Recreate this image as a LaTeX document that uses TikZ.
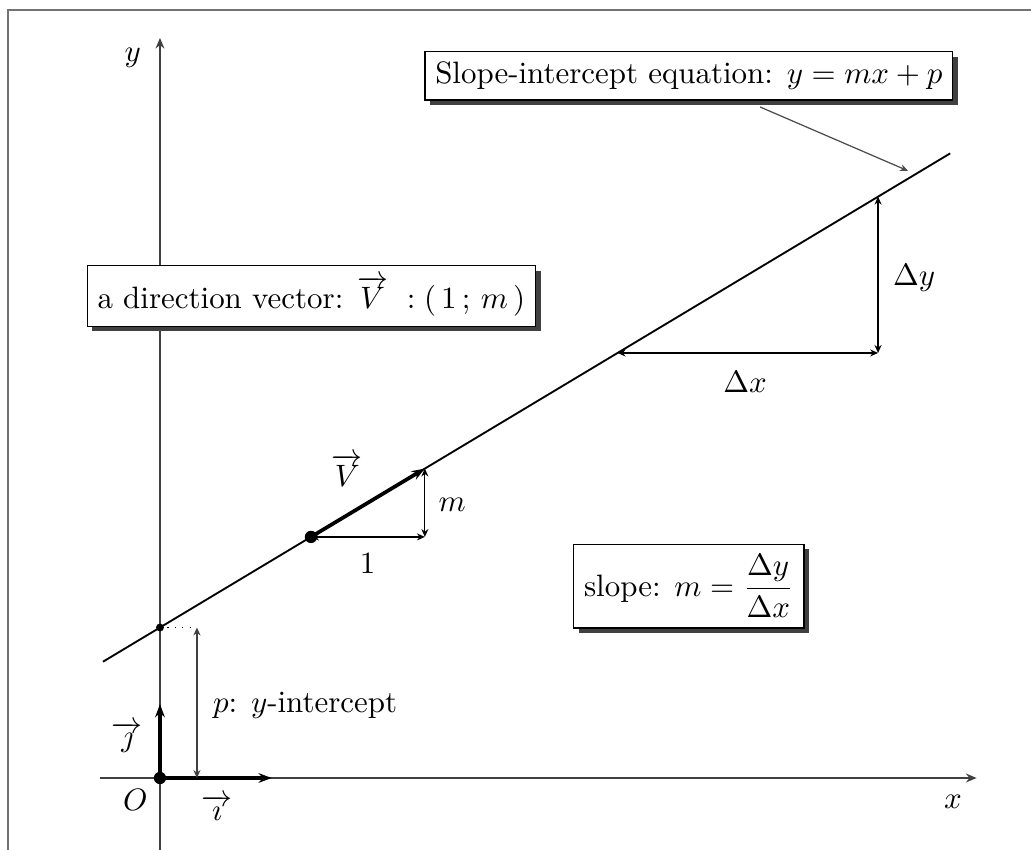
\documentclass[tikz,border=0pt]{standalone}
\usepackage{amsmath}
\usepackage{amssymb}
\usetikzlibrary{calc, positioning}
\usetikzlibrary{arrows.meta}
\usetikzlibrary{shadows}

\tikzset{
  infobox/.style={draw, fill=white, drop shadow={shadow xshift=0.6mm, shadow yshift=-0.6mm, fill=black!75, opacity=1}},
  dimarrow/.style={{Stealth[length=0.9mm, width=0.8mm]}-{Stealth[length=0.9mm, width=0.8mm]}, thin},
  axis/.style={-{Stealth[length=1.2mm, width=1mm]}, black!75, semithick},
  basevec/.style={-{Stealth[length=1.5mm, width=1.1mm]}, line width=1.3pt},
}

\begin{document}
\begin{tikzpicture}
\def\slope{0.6}
\def\yint{1.71}
\useasboundingbox (-1.818,-0.818) rectangle (9.898,8.841);
% frame
\draw[black!55, line width=0.6pt] (-1.73,-0.818) -- (-1.73,8.73) -- (9.898,8.73);
% points
\coordinate (O) at (0,0);
\coordinate (I) at (1.27,0);
\coordinate (J) at (0,0.84);
\coordinate (P) at (0,\yint);
\coordinate (Pr) at (0.42,\yint);
\coordinate (Pb) at (0.42,0);
\coordinate (L1) at (-0.648,{\yint-0.648*\slope});
\coordinate (L2) at (8.98,{\yint+8.98*\slope});
\coordinate (V1) at (1.716,{\yint+1.716*\slope});
\coordinate (V2) at (3.01,{\yint+3.01*\slope});
\coordinate (C1) at (V1 -| V2);
\coordinate (D1) at (5.2,{\yint+5.2*\slope});
\coordinate (D2) at (8.16,{\yint+8.16*\slope});
\coordinate (C2) at (D1 -| D2);
\coordinate (eqfrom) at (6.82,7.625);
\coordinate (eqto) at (8.5,6.9);
% axes
\draw[axis] (-0.68,0) -- (9.28,0);
\draw[axis] (0,-0.82) -- (0,8.41);
\node (xlab) at (9.01,-0.27) {$x$};
\node (ylab) at (-0.31,8.18) {$y$};
\node (olab) at (-0.28,-0.25) {$O$};
% line
\draw[semithick] (L1) -- (L2);
% base vectors
\draw[basevec] (O) -- (I);
\draw[basevec] (O) -- (J);
\node (ilab) at (0.65,-0.34) {$\overrightarrow{\imath}$};
\node (jlab) at (-0.37,0.46) {$\overrightarrow{\jmath}$};
% y-intercept
\draw[dotted] (P) -- (Pr);
\draw[dimarrow, black!75] (Pr) -- (Pb);
\node[right] (plab) at (0.48,0.83) {$p$: $y$-intercept};
% direction vector
\draw[basevec, line width=1.2pt] (V1) -- (V2);
\draw[dimarrow] (V1) -- (C1);
\draw[dimarrow] (C1) -- (V2);
\node (vlab) at (2.13,3.5) {$\overrightarrow{V}$};
\node (onelab) at (2.36,2.44) {$1$};
\node (mlab) at (3.32,3.1) {$m$};
% slope triangle
\draw[dimarrow] (D1) -- (C2);
\draw[dimarrow] (C2) -- (D2);
\node (dxlab) at (6.65,4.5) {$\Delta x$};
\node (dylab) at (8.57,5.68) {$\Delta y$};
% boxes
\node[infobox] (eqbox) at (6.01,7.98) {Slope-intercept equation: $y=mx+p$};
\node[infobox] (dirbox) at (1.72,5.48) {a direction vector: $\overrightarrow{V}\ :(\,1\,;\,m\,)$};
\node[infobox] (slopebox) at (6.01,2.18) {slope: $m=\dfrac{\Delta y}{\Delta x}$};
\draw[-{Stealth[length=0.9mm, width=0.8mm]}, black!70, thin] (eqfrom) -- (eqto);
\fill (O) circle (0.07);
\fill (P) circle (0.045);
\fill (V1) circle (0.07);
\end{tikzpicture}
\end{document}
